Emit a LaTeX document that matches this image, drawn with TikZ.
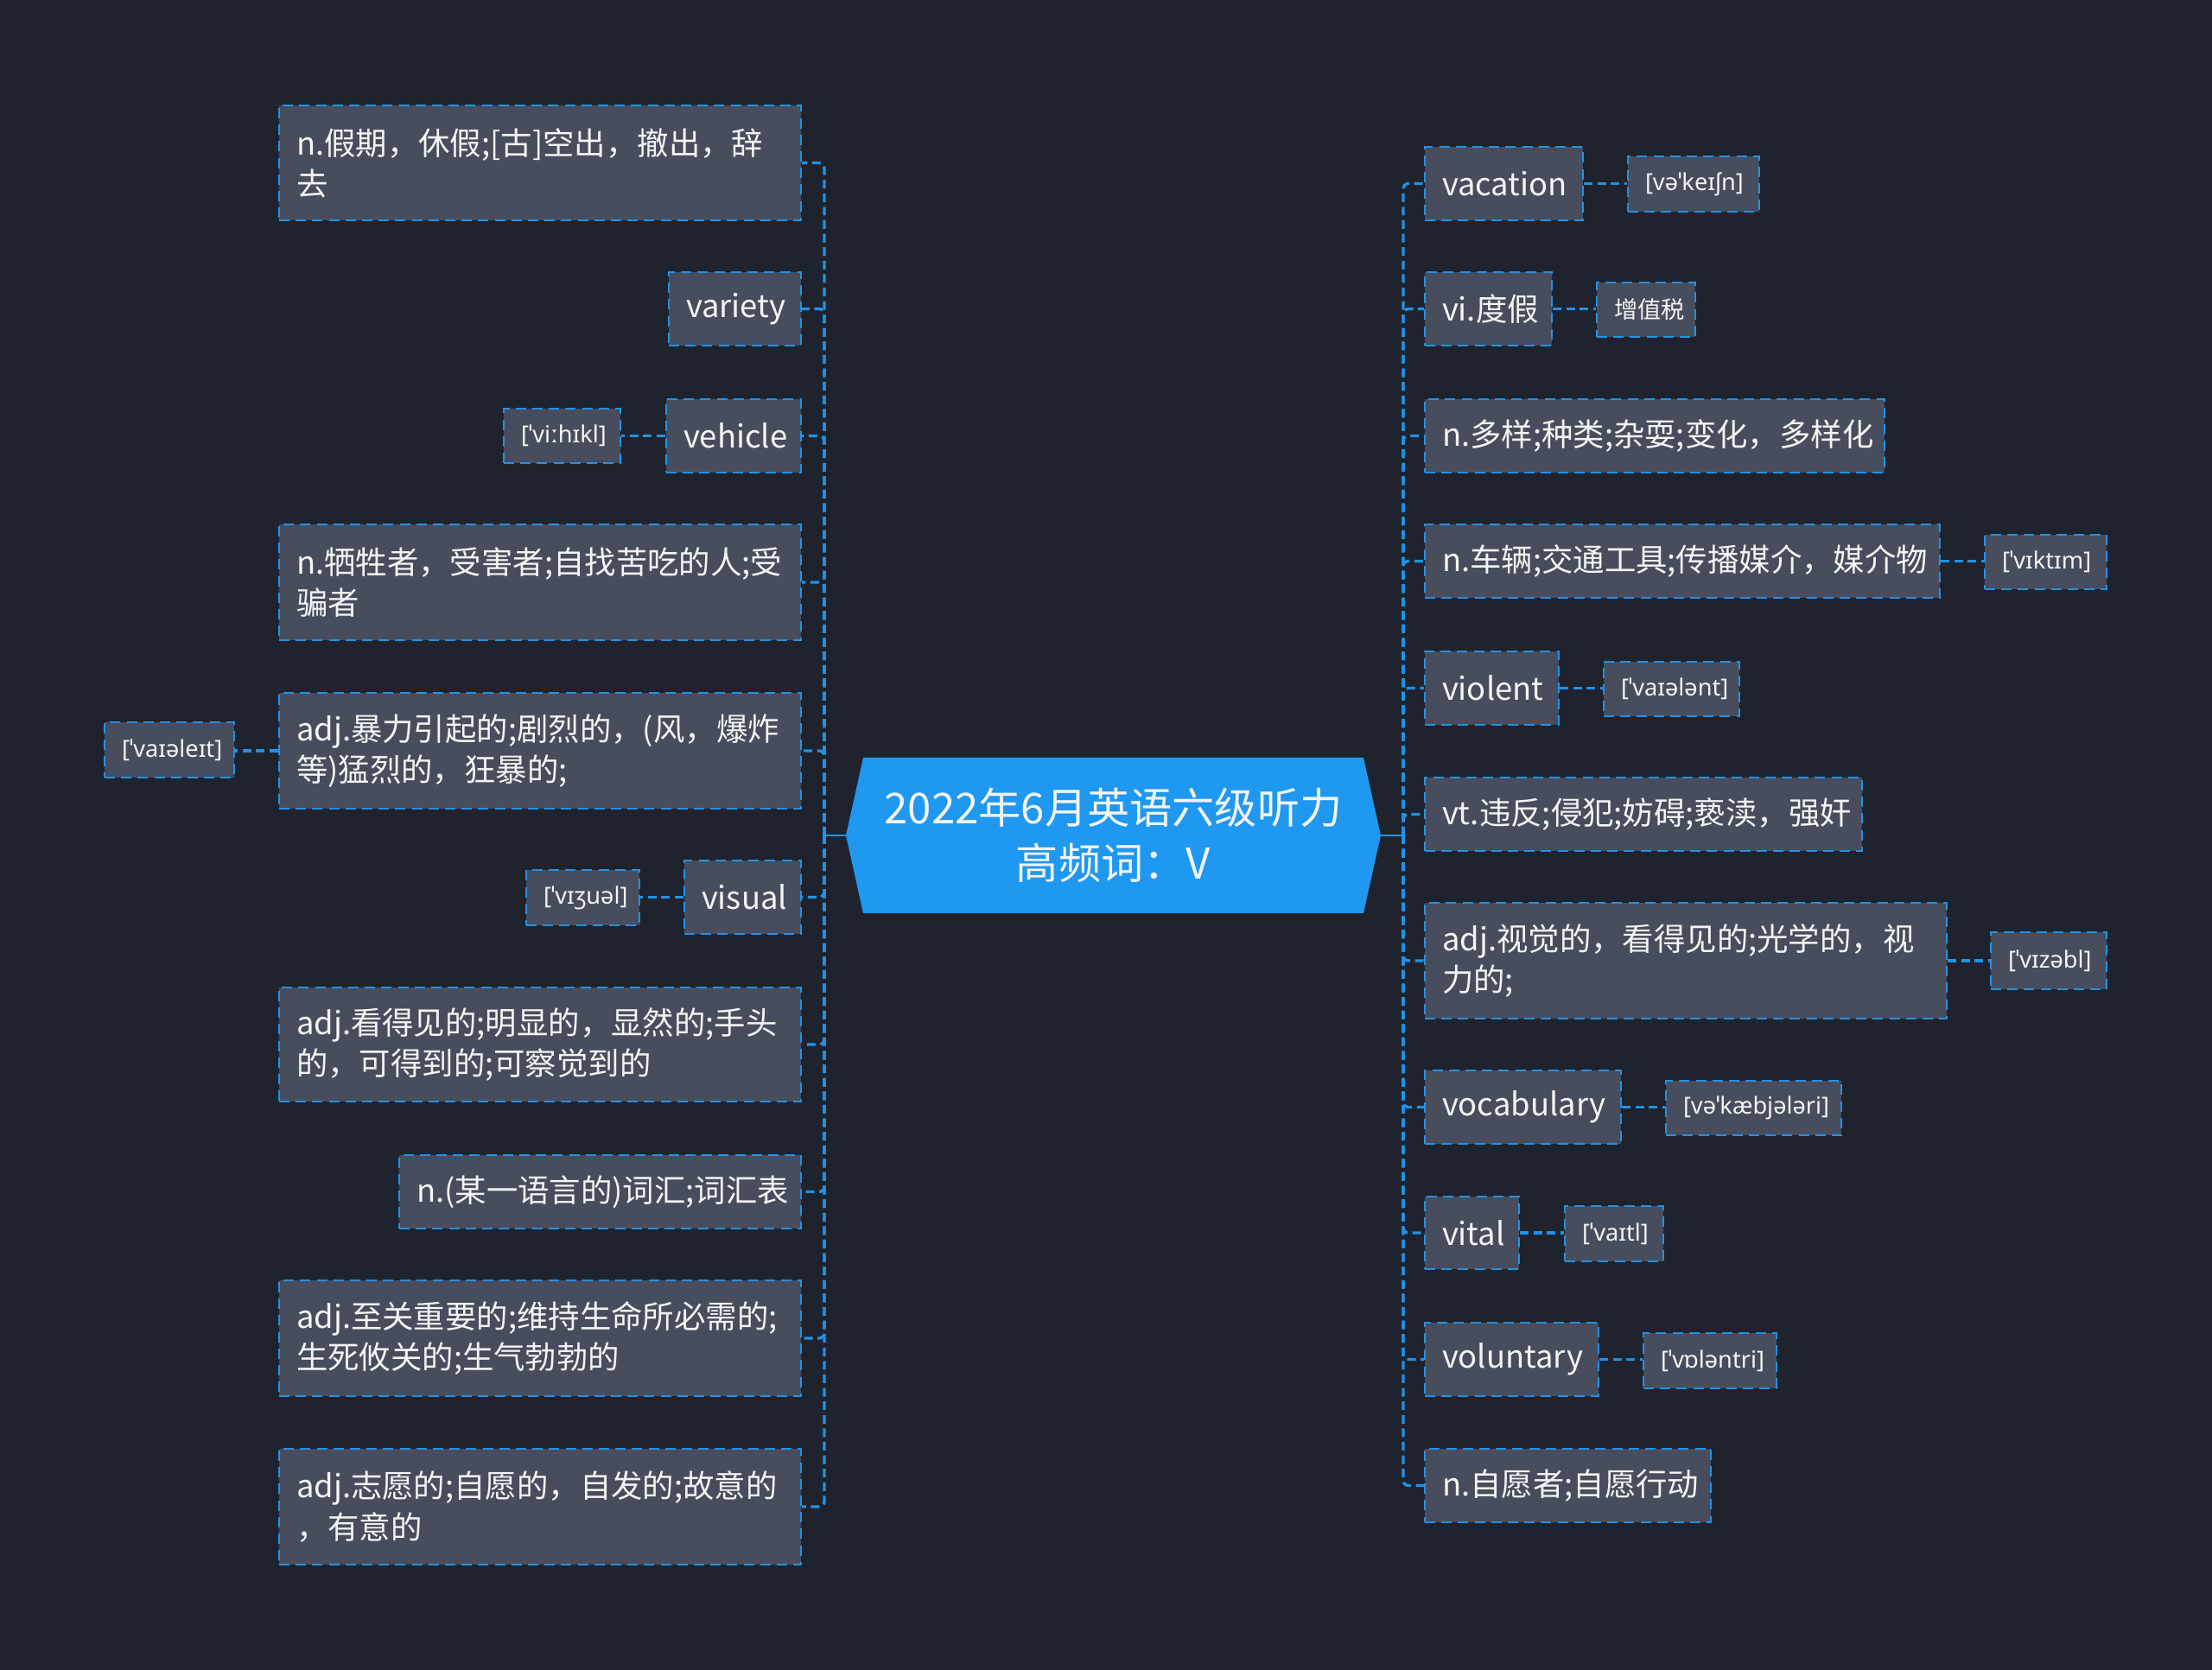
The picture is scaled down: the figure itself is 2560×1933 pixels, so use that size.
\documentclass[tikz,border=0pt]{standalone}
\usepackage{fontspec}
\newfontfamily\cjk{Noto Sans CJK SC}
\newfontfamily\ipa{Noto Sans}
\definecolor{bgc}{RGB}{31,35,46}
\definecolor{boxc}{RGB}{71,77,93}
\definecolor{linec}{RGB}{33,146,230}
\definecolor{hexc}{RGB}{30,152,240}
\definecolor{txtc}{RGB}{244,244,244}
\tikzset{
  wordbox/.style={draw=linec, fill=boxc, line width=0.6pt, dash pattern=on 3pt off 1.8pt,
    text=txtc, font=\cjk\fontsize{9.1}{11.8}\selectfont, inner xsep=5pt, inner ysep=0pt, align=left},
  phonbox/.style={draw=linec, fill=boxc, line width=0.6pt, dash pattern=on 3pt off 1.8pt,
    text=txtc, font=\ipa\fontsize{6.8}{9}\selectfont, inner xsep=2pt, inner ysep=0pt, align=center},
  conn/.style={draw=linec, line width=0.85pt, dash pattern=on 2.5pt off 1.4pt, rounded corners=1.5pt},
  connsolid/.style={draw=linec, line width=0.6pt},
}
\newcommand\wbox[7]{%
  \pgfmathsetmacro\wbW{(#5-#3)/4}%
  \pgfmathsetmacro\wbH{(#6-#4)/4}%
  \pgfmathsetmacro\wbT{(#5-#3)/4-10}%
  \pgfmathsetmacro\wbX{(#3+#5)/2}%
  \pgfmathsetmacro\wbY{(#4+#6)/2}%
  \node[#1, minimum width=\wbW pt, minimum height=\wbH pt, text width=\wbT pt] (#2) at (\wbX,\wbY) {#7};%
}
\begin{document}
\begin{tikzpicture}[x=0.25pt,y=-0.25pt]
\fill[bgc] (0,0) rectangle (2560,1933);
\useasboundingbox (0,0) rectangle (2560,1933);

% centre
\fill[hexc] (979,967) -- (999,877) -- (1578,877) -- (1598,967) -- (1578,1057) -- (999,1057) -- cycle;
\node[text=txtc, font=\cjk\fontsize{12.3}{16}\selectfont, align=center, minimum width=155pt, minimum height=45pt, inner sep=0pt] (center) at (1288.5,967) {2022年6月英语六级听力\\高频词：V};
\coordinate (jL) at (954,967);
\coordinate (jR) at (1624,967);

% right side
\wbox{wordbox}{r1}{1649}{170}{1832}{255}{vacation}
\wbox{phonbox}{rp1}{1884}{181}{2036}{245}{[vəˈkeɪʃn]}
\wbox{wordbox}{r2}{1649}{315}{1796}{400}{vi.度假}
\wbox{phonbox}{rp2}{1848}{327}{1962}{390}{\cjk 增值税}
\wbox{wordbox}{r3}{1649}{462}{2181}{547}{n.多样;种类;杂耍;变化，多样化}
\wbox{wordbox}{r4}{1649}{607}{2245}{692}{n.车辆;交通工具;传播媒介，媒介物}
\wbox{phonbox}{rp4}{2297}{619}{2438}{682}{[ˈvɪktɪm]}
\wbox{wordbox}{r5}{1649}{754}{1804}{839}{violent}
\wbox{phonbox}{rp5}{1856}{766}{2013}{829}{[ˈvaɪələnt]}
\wbox{wordbox}{r6}{1649}{900}{2155}{985}{vt.违反;侵犯;妨碍;亵渎，强奸}
\wbox{wordbox}{r7}{1649}{1045}{2253}{1179}{adj.视觉的，看得见的;光学的，视\\力的;}
\wbox{phonbox}{rp7}{2304}{1079}{2438}{1145}{[ˈvɪzəbl]}
\wbox{wordbox}{r8}{1649}{1239}{1876}{1324}{vocabulary}
\wbox{phonbox}{rp8}{1928}{1251}{2131}{1314}{[vəˈkæbjələri]}
\wbox{wordbox}{r9}{1649}{1385}{1758}{1469}{vital}
\wbox{phonbox}{rp9}{1811}{1396}{1925}{1460}{[ˈvaɪtl]}
\wbox{wordbox}{r10}{1649}{1531}{1850}{1616}{voluntary}
\wbox{phonbox}{rp10}{1902}{1543}{2056}{1607}{[ˈvɒləntri]}
\wbox{wordbox}{r11}{1649}{1677}{1980}{1762}{n.自愿者;自愿行动}

% left side
\wbox{wordbox}{l1}{323}{122}{927}{255}{n.假期，休假;[古]空出，撤出，辞\\去}
\wbox{wordbox}{l2}{774}{315}{927}{400}{variety}
\wbox{wordbox}{l3}{771}{462}{927}{547}{vehicle}
\wbox{phonbox}{lp3}{583}{473}{718}{536}{[ˈviːhɪkl]}
\wbox{wordbox}{l4}{323}{607}{927}{741}{n.牺牲者，受害者;自找苦吃的人;受\\骗者}
\wbox{wordbox}{l5}{323}{802}{927}{936}{adj.暴力引起的;剧烈的，(风，爆炸\\等)猛烈的，狂暴的;}
\wbox{phonbox}{lp5}{121}{836}{271}{900}{[ˈvaɪəleɪt]}
\wbox{wordbox}{l6}{792}{996}{927}{1081}{visual}
\wbox{phonbox}{lp6}{609}{1007}{740}{1071}{[ˈvɪʒuəl]}
\wbox{wordbox}{l7}{323}{1143}{927}{1275}{adj.看得见的;明显的，显然的;手头\\的，可得到的;可察觉到的}
\wbox{wordbox}{l8}{462}{1337}{927}{1422}{n.(某一语言的)词汇;词汇表}
\wbox{wordbox}{l9}{323}{1482}{927}{1616}{adj.至关重要的;维持生命所必需的;\\生死攸关的;生气勃勃的}
\wbox{wordbox}{l10}{323}{1677}{927}{1811}{adj.志愿的;自愿的，自发的;故意的\\，有意的}

% connectors
\draw[connsolid] (center.west -| 979,0) -- (jL);
\draw[connsolid] (center.east -| 1598,0) -- (jR);
\draw[linec, line width=0.85pt] ([yshift=2.5pt]jL) -- ([yshift=-2.5pt]jL);
\draw[linec, line width=0.85pt] ([yshift=2.5pt]jR) -- ([yshift=-2.5pt]jR);
\foreach \n in {r1,r2,r3,r4,r5,r6,r7,r8,r9,r10,r11}
  \draw[conn] (jR) |- (\n.west);
\foreach \n in {l1,l2,l3,l4,l5,l6,l7,l8,l9,l10}
  \draw[conn] (jL) |- (\n.east);
\foreach \a/\b in {r1/rp1,r2/rp2,r4/rp4,r5/rp5,r7/rp7,r8/rp8,r9/rp9,r10/rp10}
  \draw[conn] (\a.east) -- (\a.east -| \b.west);
\foreach \a/\b in {l3/lp3,l5/lp5,l6/lp6}
  \draw[conn] (\a.west) -- (\a.west -| \b.east);
\end{tikzpicture}
\end{document}
